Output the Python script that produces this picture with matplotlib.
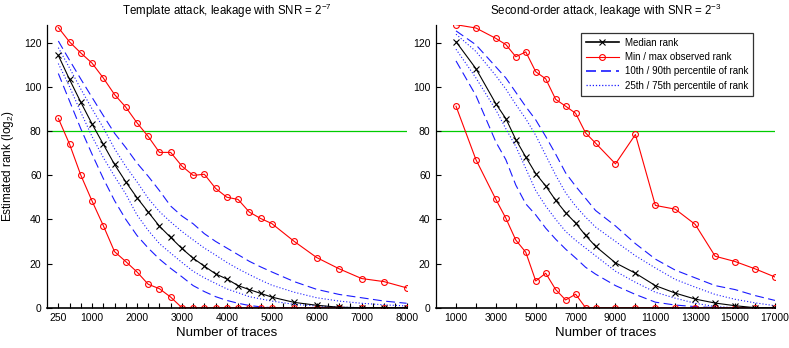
import matplotlib
matplotlib.use('Agg')
import matplotlib.pyplot as plt

plt.rcParams['font.family'] = ['Liberation Sans', 'DejaVu Sans']
plt.rcParams['mathtext.fontset'] = 'custom'
plt.rcParams['mathtext.rm'] = 'Liberation Sans'
plt.rcParams['mathtext.it'] = 'Liberation Sans:italic'

# left panel: template attack
traces_l = [250, 500, 750, 1000, 1250, 1500, 1750, 2000, 2250, 2500, 2750, 3000, 3250,
            3500, 3750, 4000, 4250, 4500, 4750, 5000, 5500, 6000, 6500, 7000, 7500, 8000]
median_l = [114.2, 103.3, 93, 83.2, 74, 64.9, 57, 49.8, 43.3, 36.9, 31.8, 26.8, 22.4,
            18.8, 15.3, 13, 10, 8.2, 6.5, 4.8, 2.4, 1.1, 0.2, 0, 0, 0]
max_l = [126.8, 120.3, 115.3, 110.7, 104, 96.5, 90.8, 83.7, 77.5, 70.3, 70.3, 64.1, 59.9,
         60.4, 54, 50, 49, 43.3, 40.4, 38.1, 30, 22.7, 17.6, 13.2, 11.8, 9]
min_l = [85.7, 74, 60, 48.3, 37.2, 25.4, 20.9, 16.2, 10.6, 8.6, 4.8, 0, 0,
         0, 0, 0, 0, 0, 0, 0, 0, 0, 0, 0, 0, 0]
p90_l = [120.7, 112, 103.5, 95.2, 87, 79, 72.5, 65.5, 59.5, 53, 46, 41.5, 38,
         33.5, 30, 27, 24, 21, 18.5, 16.2, 11.8, 8.3, 6, 4.5, 3, 2]
p75_l = [117.7, 108.5, 99, 90, 81.5, 72, 64, 57, 49.5, 43.5, 38.8, 34.5, 30.7,
         27, 23.8, 20.5, 17.6, 15, 12.5, 10.2, 7, 4.5, 3, 2, 1.3, 0.8]
p25_l = [110.5, 100, 88.5, 77.5, 68, 59.5, 51.5, 42, 35, 29, 24.7, 20.5, 16.5,
         13.5, 11, 8.5, 6.8, 5, 4, 3, 1.5, 0.8, 0.3, 0, 0, 0]
p10_l = [106, 93.5, 81, 69.5, 58.5, 48.5, 40, 32.7, 27, 22, 17.8, 14, 10,
         7.3, 5, 3.3, 2, 1, 0.4, 0, 0, 0, 0, 0, 0, 0]

# right panel: second-order attack
traces_r = [1000, 2000, 3000, 3500, 4000, 4500, 5000, 5500, 6000, 6500, 7000, 7500,
            8000, 9000, 10000, 11000, 12000, 13000, 14000, 15000, 16000, 17000]
median_r = [120.4, 108.2, 92.3, 85.6, 76.1, 68.2, 60.7, 55.1, 48.6, 43, 38.3, 32.7,
            27.8, 20.3, 15.6, 10, 6.6, 3.9, 2.1, 0.9, 0, 0]
max_r = [128.1, 126.6, 121.9, 119.1, 113.6, 115.8, 106.8, 103.6, 94.3, 91.2, 88, 79.1,
         74.5, 65.1, 78.4, 46.3, 44.6, 37.7, 23.3, 20.9, 17.6, 13.9]
min_r = [91.2, 67, 49, 40.5, 30.6, 25.1, 12.1, 15.6, 8.2, 3.5, 6.1, 0,
         0, 0, 0, 0, 0, 0, 0, 0, 0, 0]
p90_r = [125.3, 119, 109, 104, 97.5, 91, 85, 77.5, 69.5, 61, 55, 49.5,
         44, 37, 29, 22, 17, 13.5, 10, 8.2, 5.5, 3.3]
p75_r = [123.8, 116, 105, 99, 92, 85.5, 78, 69, 60, 52, 46, 41,
         36.5, 30, 23.5, 18, 12.8, 9.3, 6, 3.8, 2.2, 0.9]
p25_r = [117, 104, 89.5, 81, 73, 63, 53, 46, 40, 34.5, 30.5, 27,
         23.5, 16.5, 11.5, 7, 4.3, 2, 0.5, 0, 0, 0]
p10_r = [111.7, 96, 75, 67, 55.5, 47, 42, 36, 31, 26.5, 22.5, 18.3,
         15.2, 10, 6, 2.5, 1.2, 0.5, 0, 0, 0, 0]

xlabels_l = ['250', '1000', '2000', '3000', '4000', '5000', '6000', '7000', '8000']
xlabels_r = ['1000', '3000', '5000', '7000', '9000', '11000', '13000', '15000', '17000']

fig = plt.figure(figsize=(7.89, 3.48), dpi=100)
ax1 = fig.add_axes([0.0597, 0.1158, 0.4556, 0.8126])
ax2 = fig.add_axes([0.5527, 0.1158, 0.4295, 0.8126])


def draw(ax, x, med, mx, mn, p90, p75, p25, p10):
    ax.axhline(80, color='#00cc00', lw=0.9, zorder=1)
    ax.plot(x, p90, color='#1a1aff', lw=0.8, linestyle=(0, (8, 4)))
    ax.plot(x, p10, color='#1a1aff', lw=0.8, linestyle=(0, (8, 4)))
    ax.plot(x, p75, color='#1a1aff', lw=0.8, linestyle=(0, (1, 1.8)))
    ax.plot(x, p25, color='#1a1aff', lw=0.8, linestyle=(0, (1, 1.8)))
    ax.plot(x, mx, color='red', lw=0.8, marker='o', ms=4.2, mfc='none', mew=0.8)
    ax.plot(x, mn, color='red', lw=0.8, marker='o', ms=4.2, mfc='none', mew=0.8)
    ax.plot(x, med, color='black', lw=0.8, marker='x', ms=4, mew=0.8)
    ax.set_ylim(0, 128)
    ax.set_yticks([0, 20, 40, 60, 80, 100, 120])
    for s in ['top', 'right']:
        ax.spines[s].set_visible(False)
    ax.spines['left'].set_linewidth(0.9)
    ax.spines['bottom'].set_linewidth(1.2)
    ax.tick_params(direction='in', length=3.5, width=0.8, labelsize=7.5, pad=4)
    ax.set_xlabel('Number of traces', fontsize=9.5, labelpad=3)


draw(ax1, traces_l, median_l, max_l, min_l, p90_l, p75_l, p25_l, p10_l)
draw(ax2, traces_r, median_r, max_r, min_r, p90_r, p75_r, p25_r, p10_r)

ax1.set_xlim(0, 8000)
ticks_l = list(range(250, 8001, 250))
ax1.set_xticks(ticks_l)
ax1.set_xticklabels([str(t) if str(t) in xlabels_l else '' for t in ticks_l])
ax1.set_ylabel('Estimated rank (log$_2$)', fontsize=8.5, labelpad=6)
ax1.set_title('Template attack, leakage with SNR = 2$^{-7}$', fontsize=8.3, pad=7)

ax2.set_xlim(0, 17000)
ticks_r = list(range(1000, 17001, 1000))
ax2.set_xticks(ticks_r)
ax2.set_xticklabels([str(t) if str(t) in xlabels_r else '' for t in ticks_r])
ax2.set_title('Second-order attack, leakage with SNR = 2$^{-3}$', fontsize=8.3, pad=7)

handles = [
    plt.Line2D([], [], color='black', lw=1.2, marker='x', ms=4, mew=0.8),
    plt.Line2D([], [], color='red', lw=0.8, marker='o', ms=4.2, mfc='none', mew=0.8),
    plt.Line2D([], [], color='#1a1aff', lw=1.2, linestyle=(0, (6, 3))),
    plt.Line2D([], [], color='#1a1aff', lw=0.9, linestyle=(0, (1, 1.5))),
]
labels = ['Median rank', 'Min / max observed rank',
          '10th / 90th percentile of rank', '25th / 75th percentile of rank']
leg = ax2.legend(handles, labels, loc='upper right', bbox_to_anchor=(0.935, 0.972),
                 fontsize=7, frameon=True, fancybox=False, handlelength=3.4,
                 borderpad=0.5, labelspacing=0.45, handletextpad=0.6, borderaxespad=0)
leg.get_frame().set_edgecolor('black')
leg.get_frame().set_linewidth(0.9)

fig.savefig('out.png', dpi=100)
